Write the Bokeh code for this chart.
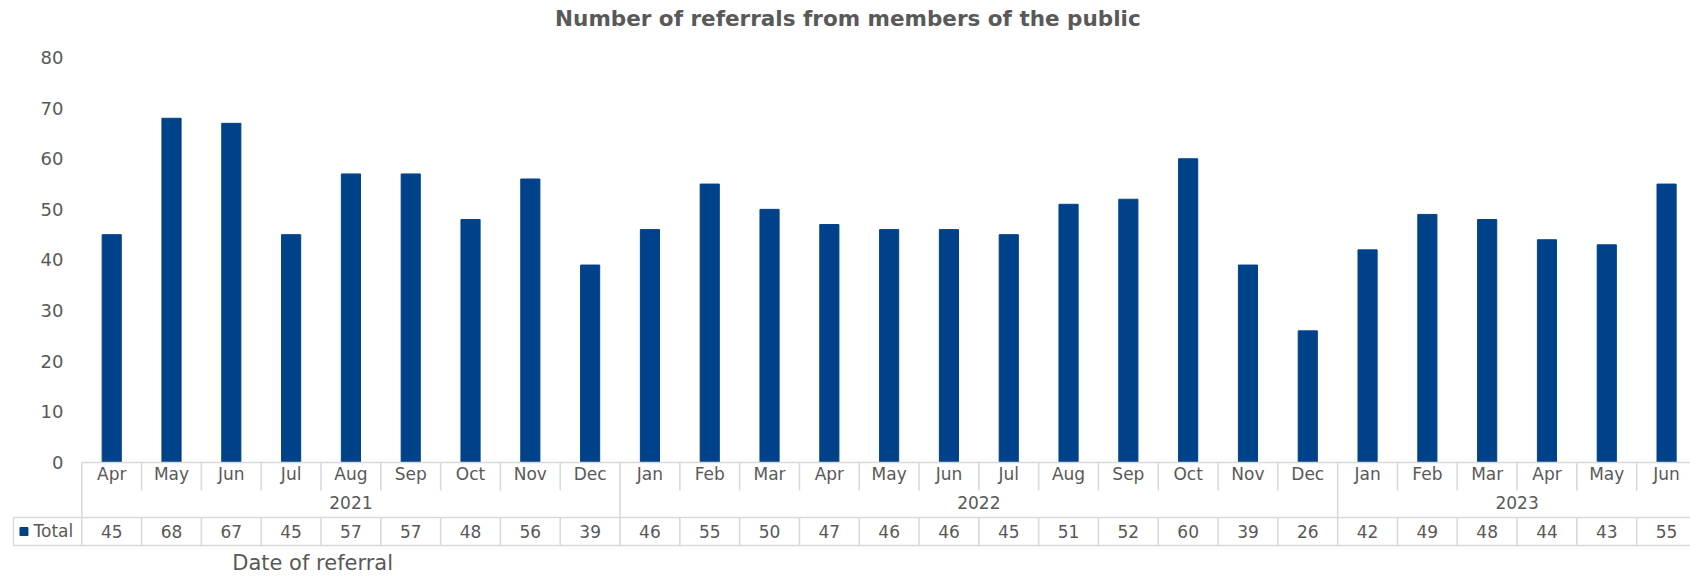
from bokeh.plotting import figure
from bokeh.models import ColumnDataSource, Range1d, FixedTicker, Label
from bokeh.core.properties import value
from bokeh.embed import file_html
from bokeh.resources import INLINE

# ---------------- data ----------------
months = ["Apr", "May", "Jun", "Jul", "Aug", "Sep", "Oct", "Nov", "Dec",
          "Jan", "Feb", "Mar", "Apr", "May", "Jun", "Jul", "Aug", "Sep", "Oct", "Nov", "Dec",
          "Jan", "Feb", "Mar", "Apr", "May", "Jun"]
totals = [45, 68, 67, 45, 57, 57, 48, 56, 39,
          46, 55, 50, 47, 46, 46, 45, 51, 52, 60, 39, 26,
          42, 49, 48, 44, 43, 55]
year_labels = ["2021", "2022", "2023"]
year_counts = [9, 12, 6]
series_name = "Total"
y_ticks = [0, 10, 20, 30, 40, 50, 60, 70, 80]
title_text = "Number of referrals from members of the public"
x_title = "Date of referral"

# ---------------- style / layout ----------------
BAR = "#00428A"
TXT = "#595959"
GRID = "#D9D9D9"
FONT = "DejaVu Sans"
W, H = 1690, 576
n = len(months)

# layout constants (data units): 1 category = 59.8px, 1 y-unit = 5.0625px
Y_TOP = 0.0          # table top (baseline)
Y_MON = -2.37        # month labels
Y_MSEP = -5.53       # end of month separators
Y_YEAR = -7.90       # year labels
Y_TT = -10.86        # total row top
Y_TV = -13.63        # total values
Y_TB = -16.40        # total row bottom
X_LEFT = -1.645      # left edge of "Total" label cell

p = figure(width=W, height=H, output_backend="svg", toolbar_location=None,
           x_axis_location=None,
           x_range=Range1d(-1.659, 26.40), y_range=Range1d(-22.52, 91.26),
           min_border=0, min_border_left=12, min_border_right=0,
           min_border_top=0, min_border_bottom=0)
p.outline_line_color = None
p.grid.visible = False
p.background_fill_color = "white"
p.border_fill_color = "white"

# y axis
ya = p.yaxis[0]
ya.ticker = FixedTicker(ticks=y_ticks)
ya.axis_line_color = None
ya.major_tick_line_color = None
ya.minor_tick_line_color = None
ya.major_tick_out = 0
ya.major_tick_in = 0
ya.major_label_standoff = -51
ya.major_label_text_font = FONT
ya.major_label_text_font_size = "18px"
ya.major_label_text_color = TXT

# bars
xs = list(range(n))
src = ColumnDataSource(dict(x=xs, top=totals, month=months,
                            val=[str(v) for v in totals]))
p.vbar(x="x", top="top", bottom=0, width=0.32, source=src,
       fill_color=BAR, line_color=BAR)

# table grid lines
x0s, y0s, x1s, y1s = [], [], [], []
x0s += [-0.5, X_LEFT, X_LEFT]; x1s += [n - 0.5] * 3
y0s += [Y_TOP, Y_TT, Y_TB]; y1s += [Y_TOP, Y_TT, Y_TB]
bounds = []
acc = 0
for c in year_counts:
    acc += c
    bounds.append(acc)
for i in range(0, n + 1):
    xb = i - 0.5
    full = (i == 0) or (i in bounds)
    x0s.append(xb); x1s.append(xb)
    y0s.append(Y_TOP); y1s.append(Y_TT if full else Y_MSEP)
    x0s.append(xb); x1s.append(xb)
    y0s.append(Y_TT); y1s.append(Y_TB)
x0s.append(X_LEFT); x1s.append(X_LEFT); y0s.append(Y_TT); y1s.append(Y_TB)
p.segment(x0=x0s, y0=y0s, x1=x1s, y1=y1s, line_color=GRID, line_width=1.6)

# month labels
p.text(x="x", y=Y_MON, text="month", source=src, text_align="center",
       text_baseline="middle", text_font=value(FONT), text_font_size="17px",
       text_color=TXT)
# values row
p.text(x="x", y=Y_TV, text="val", source=src, text_align="center",
       text_baseline="middle", text_font=value(FONT), text_font_size="17px",
       text_color=TXT)
# year labels
yx = []
start = 0
for c in year_counts:
    yx.append(start + (c - 1) / 2.0)
    start += c
p.text(x=yx, y=[Y_YEAR] * len(yx), text=year_labels, text_align="center",
       text_baseline="middle", text_font=value(FONT), text_font_size="17px",
       text_color=TXT)

# legend key in table
p.scatter(x=[-1.467], y=[Y_TV], marker="square", size=8,
          fill_color=BAR, line_color=BAR)
p.text(x=[-1.308], y=[Y_TV], text=[series_name], text_align="left",
       text_baseline="middle", text_font=value(FONT), text_font_size="17px",
       text_color=TXT)

# title & axis title
p.add_layout(Label(x=12.31, y=87.70, text=title_text, text_align="center",
                   text_baseline="middle", text_font=FONT,
                   text_font_size="21.5px", text_font_style="bold",
                   text_color=TXT))
p.add_layout(Label(x=3.36, y=-19.9, text=x_title, text_align="center",
                   text_baseline="middle", text_font=FONT,
                   text_font_size="21px", text_color=TXT))

open("out.html", "w").write(file_html(p, INLINE))
